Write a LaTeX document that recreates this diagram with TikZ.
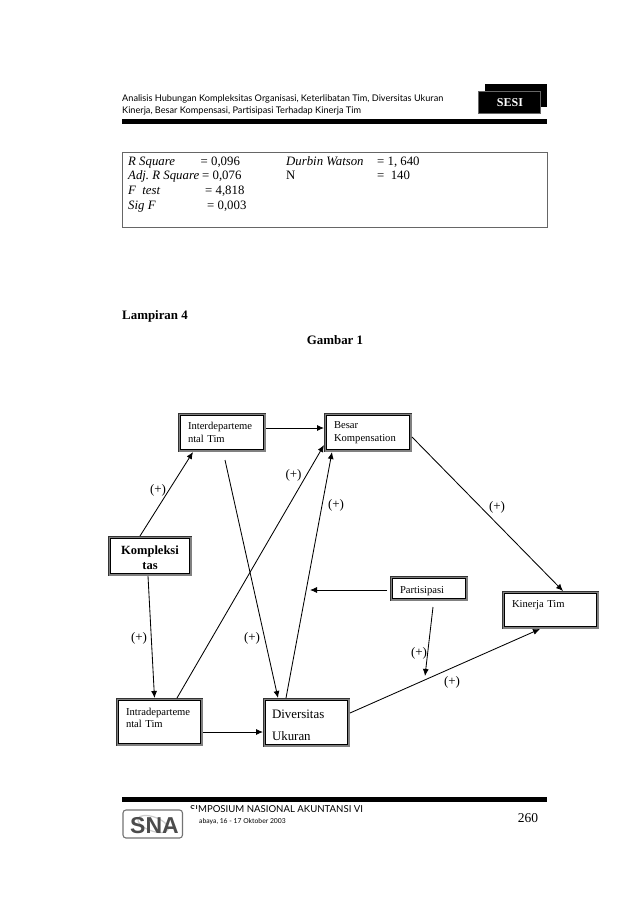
\documentclass[tikz,border=0pt]{standalone}
\usepackage{fontspec}
\setmainfont{Liberation Serif}
\newfontfamily\headfont{Lato}
\newfontfamily\logofont{Liberation Sans}
\usetikzlibrary{arrows.meta,calc}
\tikzset{
  dblbox/.style={preaction={draw=black!80,line width=5.2pt},preaction={draw=black!50,line width=4.2pt},
    preaction={draw=white,line width=2pt},fill=white,draw=black,line width=.7pt,outer sep=2.6pt,
    inner sep=0pt,text width=#1,align=left,font=\fontsize{10.6}{13}\selectfont},
  conn/.style={line width=.85pt,-{Latex[length=7pt,width=6pt]}},
  plus/.style={font=\fontsize{13}{14}\selectfont,inner sep=0pt},
  stat/.style={anchor=base west,inner sep=0pt,font=\fontsize{12.8}{14}\selectfont},
  title/.style={inner sep=0pt,font=\fontsize{12.9}{14}\selectfont\bfseries},
}
\begin{document}
\frenchspacing
\begin{tikzpicture}[x=1pt,y=-1pt]
  \useasboundingbox (0,0) rectangle (638,903);
  % header
  \node[anchor=base west,inner sep=0pt,font=\headfont\fontsize{9.17}{11}\selectfont] (head1) at (122,101) {Analisis Hubungan Kompleksitas Organisasi, Keterlibatan Tim, Diversitas Ukuran};
  \node[anchor=base west,inner sep=0pt,font=\headfont\fontsize{9.17}{11}\selectfont] (head2) at (122,113) {Kinerja, Besar Kompensasi, Partisipasi Terhadap Kinerja Tim};
  \fill (485,84) rectangle (547,107);
  \fill[draw=black!60,line width=.4pt] (478,91) rectangle (540.5,113);
  \node[text=white,inner sep=0pt,font=\fontsize{12}{14}\selectfont\bfseries] (sesi) at (510,103) {SESI};
  \fill (122,119) rectangle (547,124);
  % statistics box
  \draw[black!60,line width=.8pt] (122,152) rectangle (547,227);
  \foreach \n/\y/\a/\x/\b in {1/165/R Square/200.5/0{,}096,2/179.5/Adj. R Square/202/0{,}076,3/194/F\ \ test/205/4{,}818,4/209/Sig F/207/0{,}003} {
    \node[stat,font=\fontsize{12.8}{14}\selectfont\itshape] (lbl\n) at (128,\y) {\a};
    \node[stat] (val\n) at (\x,\y) {= \b};
  }
  \node[stat,font=\fontsize{12.8}{14}\selectfont\itshape] (dw) at (286,165) {Durbin Watson};
  \node[stat] (dwval) at (377,165) {= 1, 640};
  \node[stat] (nn) at (286,179.5) {N};
  \node[stat] (nnval) at (377,179.5) {= \ 140};
  \node[title,anchor=west] (lampiran) at (122,316) {Lampiran 4};
  \node[title] (gambar) at (335,340) {Gambar 1};
  % boxes
  \node[dblbox=68pt,minimum width=82.8pt,minimum height=33.8pt] (inter) at (222,432.5) {Interdeparteme\\ntal Tim};
  \node[dblbox=68pt,minimum width=82.8pt,minimum height=33.8pt] (besar) at (368,432.5) {Besar\\Kompensation};
  \node[dblbox=78.8pt,minimum width=78.8pt,minimum height=34.8pt,align=center,font=\fontsize{12.5}{15}\selectfont\bfseries] (kompleksi) at (150,556) {\rule{0pt}{12pt}Kompleksi\\tas};
  \node[dblbox=67pt,minimum width=81.8pt,minimum height=42.8pt,font=\fontsize{10.6}{12}\selectfont] (intra) at (159.5,722) {Intradeparteme\\ntal Tim\\[-4pt]\mbox{}};
  \node[dblbox=69pt,minimum width=81.8pt,minimum height=43.8pt,font=\fontsize{12.9}{22}\selectfont] (diversitas) at (306.5,722.5) {\rule{0pt}{15pt}Diversitas\\Ukuran};
  \node[dblbox=58pt,minimum width=72.8pt,minimum height=19.8pt] (partisipasi) at (429,588.5) {\rule{0pt}{13pt}Partisipasi};
  \node[dblbox=77pt,minimum width=91.8pt,minimum height=32.8pt] (kinerja) at (550.5,610) {Kinerja Tim\\\mbox{}};
  \coordinate (target) at (310,590);
  \coordinate (dropend) at (425,676);
  % connectors
  \draw[conn] ([xshift=-10pt]kompleksi.north) -- ([xshift=-29pt]inter.south);
  \draw[conn] ([shift={(3,8)}]inter.south) -- ([xshift=-28.5pt]diversitas.north);
  \draw[conn] ([yshift=4.5pt]inter.east) -- ([yshift=4.5pt]besar.west);
  \draw[conn] ([yshift=-4.5pt]besar.east) -- ([xshift=12.5pt]kinerja.north);
  \draw[conn] ([xshift=-2pt]kompleksi.south) -- ([xshift=-5pt]intra.north);
  \draw[conn] ([xshift=17.5pt]intra.north) -- ([yshift=-12.5pt]besar.west);
  \draw[conn] ([xshift=-20.5pt]diversitas.north) -- ([xshift=-36pt]besar.south);
  \draw[conn] ([shift={(-3,1.5)}]partisipasi.west) -- (target);
  \draw[conn] ([shift={(4,6)}]partisipasi.south) -- (dropend);
  \draw[conn] ([yshift=-10pt]intra.east) -- ([yshift=-9.5pt]diversitas.west);
  \draw[conn] ([yshift=9.5pt]diversitas.east) -- ([xshift=-10.5pt]kinerja.south);
  % signs
  \foreach \n/\x/\y in {1/158/490,2/293.5/475,3/336/505,4/497/507,5/139/638,6/252/638,7/419/653,8/452/682} {
    \node[plus] (plus\n) at (\x,\y) {(+)};
  }
  % footer
  \fill (122,797) rectangle (547,802);
  \draw[black!55,line width=1.1pt,rounded corners=3pt,fill=white] (123,810) rectangle (182.5,838);
  \draw[black!20,line width=1.2pt,rotate around={-20:(153,824)}] (153,824) ellipse (16 and 7);
  \node[inner sep=0pt,text=black!70,font=\logofont\fontsize{23}{23}\selectfont\bfseries] (logo) at (154.5,825.5) {SNA};
  \node[anchor=base west,inner sep=0pt,font=\headfont\fontsize{9.6}{11}\selectfont] (foot1) at (190,812.5) {SIMPOSIUM NASIONAL AKUNTANSI VI};
  \fill[white] (189,808.5) rectangle (197.5,814);
  \node[anchor=base west,inner sep=0pt,font=\headfont\fontsize{6.8}{8}\selectfont] (foot2) at (199,823) {abaya, 16 - 17 Oktober 2003};
  \node[inner sep=0pt,font=\fontsize{13.5}{15}\selectfont] (page) at (528,818.5) {260};
\end{tikzpicture}
\end{document}
